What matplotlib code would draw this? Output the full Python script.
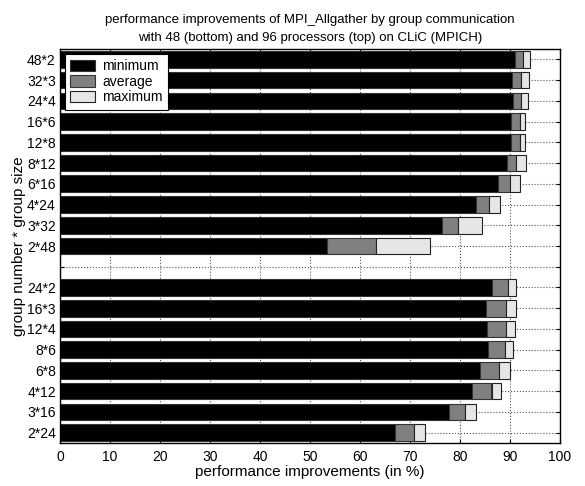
import matplotlib
matplotlib.use("Agg")
import matplotlib.pyplot as plt
import numpy as np

plt.rcParams['font.family'] = ['Liberation Sans', 'DejaVu Sans']

# rows from top to bottom; "" is the empty separator row
labels = ["48*2", "32*3", "24*4", "16*6", "12*8", "8*12", "6*16", "4*24", "3*32", "2*48",
          "",
          "24*2", "16*3", "12*4", "8*6", "6*8", "4*12", "3*16", "2*24"]

# 96 processors (top block)
min_96 = [90.9, 90.3, 90.5, 90.1, 90.2, 89.3, 87.5, 83.2, 76.4, 53.3]
avg_96 = [92.5, 92.2, 92.1, 92.0, 91.9, 91.1, 89.9, 85.7, 79.5, 63.1]
max_96 = [93.9, 93.8, 93.5, 93.0, 92.9, 93.1, 91.9, 88.1, 84.3, 73.9]

# 48 processors (bottom block)
min_48 = [86.3, 85.1, 85.3, 85.5, 83.9, 82.4, 77.7, 66.9]
avg_48 = [89.5, 89.1, 89.1, 88.9, 87.7, 86.3, 80.9, 70.7]
max_48 = [91.1, 91.1, 91.0, 90.6, 90.0, 88.2, 83.3, 72.9]

mins = np.array(min_96 + [np.nan] + min_48)
avgs = np.array(avg_96 + [np.nan] + avg_48)
maxs = np.array(max_96 + [np.nan] + max_48)

ypos = np.arange(len(labels))
ok = ~np.isnan(mins)

fig = plt.figure(figsize=(5.85, 4.86), dpi=100)
ax = fig.add_axes([60/585, 1-443/486, 500/585, 394/486])

ax.grid(True, linestyle=':', color='#555555', linewidth=0.8)
ax.set_axisbelow(True)

h = 0.8
ax.barh(ypos[ok], mins[ok], height=h, color='black', edgecolor='#333333',
        linewidth=0.8, label='minimum')
ax.barh(ypos[ok], (avgs - mins)[ok], left=mins[ok], height=h, color='#808080',
        edgecolor='#333333', linewidth=0.8, label='average')
ax.barh(ypos[ok], (maxs - avgs)[ok], left=avgs[ok], height=h, color='#e6e6e6',
        edgecolor='#222222', linewidth=0.8, label='maximum')

ax.set_xlim(0, 100)
ax.set_ylim(len(labels) - 0.5, -0.5)
ax.set_xticks(np.arange(0, 101, 10))
ax.set_yticks(ypos)
ax.set_yticklabels(labels)
ax.tick_params(direction='in', top=True, right=True, labelsize=10, length=3)
ax.tick_params(axis='x', pad=5)
ax.tick_params(axis='y', pad=3)
for s in ax.spines.values():
    s.set_linewidth(1.0)

ax.set_xlabel("performance improvements (in %)", fontsize=11, labelpad=1)
ax.set_ylabel("group number * group size", fontsize=11, labelpad=1)
ax.set_title("performance improvements of MPI_Allgather by group communication\n"
             "with 48 (bottom) and 96 processors (top) on CLiC (MPICH)",
             fontsize=9.5, pad=6, linespacing=1.6)

leg = ax.legend(loc='upper left', fontsize=10, fancybox=False, edgecolor='black',
                framealpha=1, borderpad=0.4, labelspacing=0.1, handlelength=1.75,
                handleheight=0.85, handletextpad=0.55, borderaxespad=0.35)
leg.get_frame().set_linewidth(0.8)

fig.savefig("out.png", dpi=100)
